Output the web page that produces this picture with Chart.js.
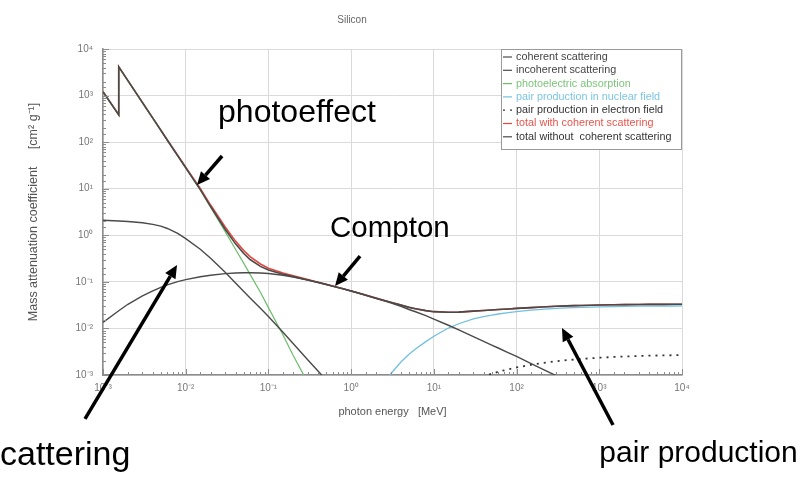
<!DOCTYPE html>
<html>
<head>
<meta charset="utf-8">
<title>Silicon</title>
<script src="https://cdn.jsdelivr.net/npm/chart.js@4.4.1/dist/chart.umd.min.js"></script>
<style>
  html, body { margin: 0; padding: 0; background: #fff; }
  canvas { display: block; }
</style>
</head>
<body>
<canvas id="chart" width="800" height="477"></canvas>
<script>
// Photon energy grid in MeV. The absorption edge is listed twice: below / above.
const energy = [0.001, 0.00155, 0.00155, 0.002, 0.003, 0.004, 0.005, 0.006, 0.008, 0.01,
  0.015, 0.02, 0.03, 0.04, 0.05, 0.06, 0.08, 0.1, 0.15, 0.2,
  0.3, 0.4, 0.5, 0.6, 0.8, 1, 1.25, 1.5, 2, 3,
  4, 5, 6, 8, 10, 15, 20, 30, 40, 50,
  60, 80, 100, 150, 200, 300, 400, 500, 600, 800,
  1000, 1500, 2000, 3000, 4000, 5000, 6000, 8000, 10000];

// mass attenuation coefficients, cm^2/g (null = not drawn)
const coherent = [2.10, 2.02, 2.02, 1.98, 1.86, 1.72, 1.57, 1.40, 1.10, 0.85,
  0.50, 0.32, 0.16, 0.095, 0.063, 0.045, 0.027, 0.018, 0.0083, 0.0047,
  0.0021, 0.0012, 0.00078, 0.00054, 0.00031, null, null, null, null, null,
  null, null, null, null, null, null, null, null, null, null,
  null, null, null, null, null, null, null, null, null, null,
  null, null, null, null, null, null, null, null, null];

const incoherent = [0.0135, 0.024, 0.024, 0.033, 0.050, 0.064, 0.076, 0.086, 0.101, 0.112,
  0.129, 0.139, 0.150, 0.155, 0.157, 0.157, 0.155, 0.151, 0.139, 0.127,
  0.109, 0.0968, 0.0877, 0.0807, 0.0707, 0.0636, 0.0568, 0.0517, 0.0442, 0.0354,
  0.0299, 0.0255, 0.0228, 0.0188, 0.0159, 0.0117, 0.0093, 0.0067, 0.0053, 0.0044,
  0.0038, 0.0030, 0.0025, 0.00175, 0.00137, 0.00097, 0.00075, 0.00062, null, null,
  null, null, null, null, null, null, null, null, null];

const photoelectric = [1210, 385, 4150, 2096, 707, 327, 180, 110, 51.0, 28.1,
  9.46, 4.0, 1.2, 0.50, 0.255, 0.145, 0.060, 0.028, 0.0072, 0.0026,
  0.00068, 0.00027, 0.00014, null, null, null, null, null, null, null,
  null, null, null, null, null, null, null, null, null, null,
  null, null, null, null, null, null, null, null, null, null,
  null, null, null, null, null, null, null, null, null];

const pairNuclear = [null, null, null, null, null, null, null, null, null, null,
  null, null, null, null, null, null, null, null, null, null,
  null, null, null, null, null, null, 1.8e-5, 8e-5, 3.5e-4, 1.05e-3,
  1.9e-3, 2.8e-3, 3.6e-3, 5.2e-3, 6.8e-3, 0.0102, 0.0126, 0.0160, 0.0180, 0.0194,
  0.0204, 0.0219, 0.0230, 0.0246, 0.0257, 0.0270, 0.0277, 0.0281, 0.0284, 0.0288,
  0.0291, 0.0295, 0.0297, 0.0300, 0.0301, 0.0302, 0.0302, 0.0303, 0.0304];

const pairElectron = [null, null, null, null, null, null, null, null, null, null,
  null, null, null, null, null, null, null, null, null, null,
  null, null, null, null, null, null, null, null, null, 3e-6,
  1.5e-5, 3.5e-5, 6e-5, 1.2e-4, 1.9e-4, 3.6e-4, 5.2e-4, 7.6e-4, 9.4e-4, 1.07e-3,
  1.17e-3, 1.33e-3, 1.45e-3, 1.66e-3, 1.80e-3, 1.97e-3, 2.08e-3, 2.15e-3, 2.21e-3, 2.29e-3,
  2.35e-3, 2.44e-3, 2.50e-3, 2.56e-3, 2.60e-3, 2.62e-3, 2.64e-3, 2.66e-3, 2.68e-3];

const totalWithCoherent = [1212, 387.0, 4152, 2098, 708.9, 328.8, 181.6, 111.5, 52.20, 29.06,
  10.09, 4.459, 1.510, 0.750, 0.475, 0.347, 0.242, 0.197, 0.1545, 0.1343,
  0.1118, 0.0983, 0.0886, 0.0813, 0.0711, 0.0638, 0.0570, 0.0519, 0.0447, 0.0366,
  0.0319, 0.0284, 0.0265, 0.0241, 0.0229, 0.0223, 0.0224, 0.0235, 0.0242, 0.0249,
  0.0254, 0.0262, 0.0270, 0.0280, 0.0289, 0.0299, 0.0305, 0.0309, 0.0311, 0.0315,
  0.0318, 0.0322, 0.0324, 0.0327, 0.0328, 0.0329, 0.0329, 0.0330, 0.0331];

const totalWithoutCoherent = [1210, 385, 4150, 2096, 707.1, 327.1, 180.1, 110.1, 51.10, 28.21,
  9.589, 4.139, 1.350, 0.655, 0.412, 0.302, 0.215, 0.179, 0.1462, 0.1296,
  0.1097, 0.0971, 0.0878, 0.0808, 0.0708, 0.0636, 0.0568, 0.0518, 0.0446, 0.0365,
  0.0318, 0.0283, 0.0265, 0.0241, 0.0229, 0.0223, 0.0224, 0.0235, 0.0242, 0.0249,
  0.0254, 0.0262, 0.0270, 0.0280, 0.0289, 0.0299, 0.0305, 0.0309, 0.0311, 0.0315,
  0.0318, 0.0322, 0.0324, 0.0327, 0.0328, 0.0329, 0.0329, 0.0330, 0.0331];

// callouts: left/baseline anchor as [energy MeV, coefficient], font size in px
const callouts = [
  { text: 'photoeffect', at: [0.0246, 271], size: 32 },
  { text: 'Compton', at: [0.555, 0.919], size: 29.5 },
  { text: 'pair production', at: [1000, 1.36e-5], size: 30 },
  { text: 'scattering', at: [3.54e-5, 1.17e-5], size: 34 }
];
const arrows = [
  { from: [0.0275, 50.4], to: [0.0137, 12.0] },
  { from: [1.28, 0.359], to: [0.638, 0.0815] },
  { from: [6.06e-4, 1.14e-4], to: [0.00785, 0.230] },
  { from: [1465, 8.44e-5], to: [354, 0.0102] }
];

const FONT = 'Arial, "Liberation Sans", Helvetica, sans-serif';
const SUP = { '-': '\u207B', '0': '\u2070', '1': '\u00B9', '2': '\u00B2', '3': '\u00B3', '4': '\u2074' };

const isDecade = v => Math.abs(Math.log10(v) - Math.round(Math.log10(v))) < 1e-9;
const powerLabel = v => '10' + String(Math.round(Math.log10(v))).split('').map(c => SUP[c]).join('');

function points(vals) {
  return energy.map((e, i) => ({ x: e, y: vals[i] })).filter(p => p.y != null);
}

function series(label, vals, color, extra) {
  return Object.assign({
    label: label,
    data: points(vals),
    showLine: true,
    borderColor: color,
    backgroundColor: color,
    borderWidth: 1.4,
    pointRadius: 0,
    tension: 0
  }, extra);
}

// MATLAB-like ticks pointing into the plot
const innerTicks = {
  id: 'innerTicks',
  afterDatasetsDraw(chart) {
    const { ctx, chartArea: a, scales: { x, y } } = chart;
    ctx.save();
    ctx.strokeStyle = '#8c8c8c';
    ctx.lineWidth = 1;
    ctx.beginPath();
    x.ticks.forEach(t => {
      const px = Math.round(x.getPixelForValue(t.value)) + 0.5;
      const len = isDecade(t.value) ? 6 : 3;
      ctx.moveTo(px, a.bottom);
      ctx.lineTo(px, a.bottom - len);
    });
    y.ticks.forEach(t => {
      const py = Math.round(y.getPixelForValue(t.value)) + 0.5;
      const len = isDecade(t.value) ? 6 : 3;
      ctx.moveTo(a.left, py);
      ctx.lineTo(a.left + len, py);
    });
    ctx.stroke();
    ctx.restore();
  }
};

// boxed legend in the upper right corner of the axes
const boxLegend = {
  id: 'boxLegend',
  afterDraw(chart) {
    const { ctx, chartArea: a } = chart;
    const w = 181, h = 101, left = a.right - w, top = a.top;
    ctx.save();
    ctx.fillStyle = '#fff';
    ctx.fillRect(left, top, w, h);
    ctx.strokeStyle = '#9a9a9a';
    ctx.lineWidth = 1;
    ctx.strokeRect(left + 0.5, top + 0.5, w - 1, h - 1);
    ctx.font = '10.8px ' + FONT;
    ctx.textBaseline = 'middle';
    chart.data.datasets.forEach((ds, i) => {
      const yy = top + 8 + i * 13.3;
      ctx.strokeStyle = ds.borderColor;
      ctx.lineWidth = 1.2;
      ctx.setLineDash(ds.borderDash || []);
      ctx.beginPath();
      ctx.moveTo(left + 2, yy);
      ctx.lineTo(left + 11, yy);
      ctx.stroke();
      ctx.setLineDash([]);
      ctx.fillStyle = ds.textColor || ds.borderColor;
      ctx.fillText(ds.label, left + 15, yy);
    });
    ctx.restore();
  }
};

function drawArrow(ctx, x0, y0, x1, y1) {
  const ang = Math.atan2(y1 - y0, x1 - x0);
  const head = 13, half = 6;
  const bx = x1 - head * Math.cos(ang), by = y1 - head * Math.sin(ang);
  ctx.beginPath();
  ctx.moveTo(x0, y0);
  ctx.lineTo(bx, by);
  ctx.stroke();
  ctx.beginPath();
  ctx.moveTo(x1, y1);
  ctx.lineTo(bx + half * Math.sin(ang), by - half * Math.cos(ang));
  ctx.lineTo(bx - half * Math.sin(ang), by + half * Math.cos(ang));
  ctx.closePath();
  ctx.fill();
}

// title, callout words and arrows
const overlay = {
  id: 'overlay',
  afterDraw(chart) {
    const { ctx, scales: { x, y } } = chart;
    ctx.save();
    ctx.fillStyle = '#666';
    ctx.font = '10px ' + FONT;
    ctx.textAlign = 'center';
    ctx.textBaseline = 'middle';
    ctx.fillText('Silicon', 352, 20);

    ctx.fillStyle = '#000';
    ctx.strokeStyle = '#000';
    ctx.textAlign = 'left';
    ctx.textBaseline = 'alphabetic';
    callouts.forEach(c => {
      ctx.font = c.size + 'px ' + FONT;
      ctx.fillText(c.text, x.getPixelForValue(c.at[0]), y.getPixelForValue(c.at[1]));
    });
    ctx.lineWidth = 3.5;
    arrows.forEach(r => {
      drawArrow(ctx,
        x.getPixelForValue(r.from[0]), y.getPixelForValue(r.from[1]),
        x.getPixelForValue(r.to[0]), y.getPixelForValue(r.to[1]));
    });
    ctx.restore();
  }
};

const dark = '#4a4a4a';

new Chart(document.getElementById('chart'), {
  type: 'scatter',
  data: {
    datasets: [
      series('coherent scattering', coherent, dark, { order: 1, textColor: '#444' }),
      series('incoherent scattering', incoherent, dark, { order: 1, textColor: '#444' }),
      series('photoelectric absorption', photoelectric, '#6cbd6a', { order: 3, borderWidth: 1.2, textColor: '#7cc47a' }),
      series('pair production in nuclear field', pairNuclear, '#72c0df', { order: 3, borderWidth: 1.3, textColor: '#7cc6e4' }),
      series('pair production in electron field', pairElectron, '#333', { order: 2, borderDash: [2, 5], borderWidth: 1.8, textColor: '#333' }),
      series('total with coherent scattering', totalWithCoherent, '#e4473f', { order: 4, borderWidth: 1.6, textColor: '#e8554d' }),
      series('total without  coherent scattering', totalWithoutCoherent, dark, { order: 0, borderWidth: 1.6, textColor: '#333' })
    ]
  },
  options: {
    responsive: false,
    animation: false,
    layout: { padding: { top: 49, right: 118, left: 0, bottom: 0 } },
    plugins: {
      legend: { display: false },
      tooltip: { enabled: false },
      title: { display: false }
    },
    scales: {
      x: {
        type: 'logarithmic',
        min: 1e-3,
        max: 1e4,
        afterFit(scale) { scale.height = 102; },
        border: { display: true, color: '#8c8c8c', width: 1.5 },
        grid: {
          drawTicks: false,
          lineWidth: 1,
          color: c => (c.tick && isDecade(c.tick.value)) ? '#dadada' : 'rgba(0,0,0,0)'
        },
        ticks: {
          autoSkip: false,
          maxRotation: 0,
          padding: 7,
          color: '#777',
          font: { size: 10, family: FONT },
          callback: v => isDecade(v) ? powerLabel(v) : ''
        },
        title: {
          display: true,
          text: 'photon energy   [MeV]',
          color: '#555',
          font: { size: 11, family: FONT },
          padding: { top: 0, bottom: 58 }
        }
      },
      y: {
        type: 'logarithmic',
        min: 1e-3,
        max: 1e4,
        afterFit(scale) { scale.width = 103; },
        border: { display: true, color: '#8c8c8c', width: 1.5 },
        grid: {
          drawTicks: false,
          lineWidth: 1,
          color: c => (c.tick && isDecade(c.tick.value)) ? '#dadada' : 'rgba(0,0,0,0)'
        },
        ticks: {
          autoSkip: false,
          padding: 10,
          color: '#777',
          font: { size: 10, family: FONT },
          callback: v => isDecade(v) ? powerLabel(v) : ''
        },
        title: {
          display: true,
          text: 'Mass attenuation coefficient     [cm\u00B2 g\u207B\u00B9]',
          color: '#555',
          font: { size: 12.5, family: FONT },
          padding: { top: 26, bottom: 0 }
        }
      }
    }
  },
  plugins: [innerTicks, boxLegend, overlay]
});
</script>
</body>
</html>
